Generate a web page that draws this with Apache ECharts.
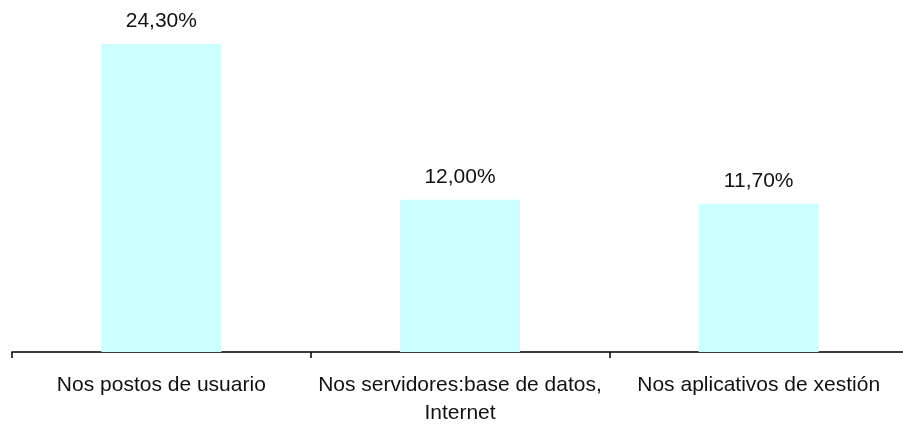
<!DOCTYPE html>
<html><head><meta charset="utf-8">
<script src="https://cdn.jsdelivr.net/npm/echarts@6/dist/echarts.min.js"></script>
<style>html,body{margin:0;padding:0;background:#fff;overflow:hidden}#c{width:908px;height:430px}</style>
</head><body><div id="c"></div>
<script>
const categories = ['Nos postos de usuario', 'Nos servidores:base de datos,\nInternet', 'Nos aplicativos de xestión'];
const values = [24.3, 12.0, 11.7];
const valueLabels = ['24,30%', '12,00%', '11,70%'];

const chart = echarts.init(document.getElementById('c'), null, {renderer: 'canvas'});
chart.setOption({
  animation: false,
  grid: {left: 12, right: 0, top: 35, bottom: 78, containLabel: false},
  xAxis: {
    type: 'category', data: categories,
    axisLine: {lineStyle: {color: '#000', width: 1.5}},
    axisTick: {show: true, length: 6, lineStyle: {color: '#000', width: 1.5}},
    axisLabel: {color: '#111', fontSize: 21, fontFamily: 'Liberation Sans, Arial', margin: 19, lineHeight: 28, interval: 0}
  },
  yAxis: {type: 'value', min: 0, max: 25, show: false, splitLine: {show: false}},
  series: [{
    type: 'bar', data: values, barWidth: 120,
    itemStyle: {color: '#CCFFFF'},
    label: {show: true, position: 'top', distance: 12, color: '#111', fontSize: 21,
      fontFamily: 'Liberation Sans, Arial',
      formatter: p => valueLabels[p.dataIndex]}
  }]
});
</script></body></html>
